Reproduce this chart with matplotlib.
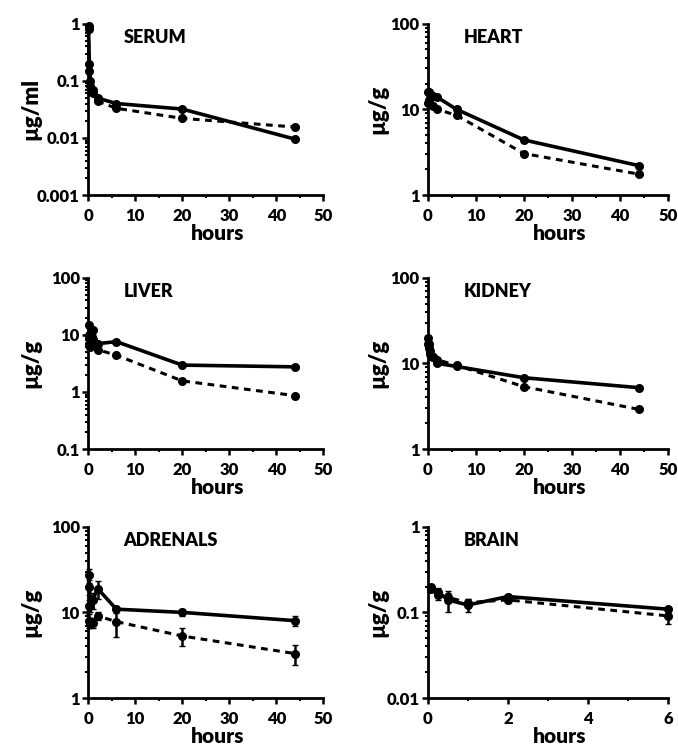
import numpy as np
import matplotlib
matplotlib.use('Agg')
from matplotlib import pyplot as plt
from matplotlib.ticker import LogLocator, FixedLocator, NullFormatter

plt.rcParams['font.family'] = ['Lato', 'DejaVu Sans']
plt.rcParams['font.weight'] = 'heavy'

# time points (hours)
t_long = [0.083, 0.25, 0.5, 1, 2, 6, 20, 44]
t_brain = [0.083, 0.25, 0.5, 1, 2, 6]

# serum (ug/ml)
serum_solid = [0.9, 0.2, 0.1, 0.07, 0.05, 0.040, 0.032, 0.0095]
serum_dashed = [0.8, 0.15, 0.08, 0.06, 0.044, 0.033, 0.022, 0.0155]

# heart (ug/g)
heart_solid = [15.8, 16, 15, 14.5, 13.8, 10, 4.4, 2.2]
heart_dashed = [12, 13, 11.5, 11, 10, 8.5, 3.05, 1.75]

# liver (ug/g)
liver_solid = [15, 9, 7, 12, 7, 7.6, 2.95, 2.75]
liver_dashed = [10, 7, 6, 8, 5.5, 4.4, 1.56, 0.86]

# kidney (ug/g)
kidney_solid = [20, 17, 14, 12, 10, 9.2, 6.8, 5.2]
kidney_dashed = [17, 15, 13, 12, 11, 9.5, 5.35, 2.9]

# adrenals (ug/g)
adrenal_solid = [27, 20, 12, 14, 19, 10.9, 10, 8]
adrenal_solid_err = [5, 4, 2, 3, 4.5, 1, 1, 1]
adrenal_dashed = [12, 8, 7.5, 7.5, 9.1, 7.8, 5.3, 3.3]
adrenal_dashed_err = [2, 1.5, 1, 1, 1, 2.6, 1.2, 0.9]

# brain (ug/g)
brain_solid = [0.20, 0.175, 0.14, 0.122, 0.153, 0.109]
brain_solid_err = [0.01, 0.02, 0.04, 0.02, 0.01, 0.005]
brain_dashed = [0.19, 0.16, 0.15, 0.13, 0.14, 0.091]
brain_dashed_err = [0.01, 0.02, 0.02, 0.015, 0.01, 0.018]

panels = [
    ('SERUM', t_long, serum_solid, None, serum_dashed, None, (0.001, 1),
     [0.001, 0.01, 0.1, 1], ['0.001', '0.01', '0.1', '1'], 'µg/ml', 50),
    ('HEART', t_long, heart_solid, None, heart_dashed, None, (1, 100),
     [1, 10, 100], ['1', '10', '100'], 'µg/g', 50),
    ('LIVER', t_long, liver_solid, None, liver_dashed, None, (0.1, 100),
     [0.1, 1, 10, 100], ['0.1', '1', '10', '100'], 'µg/g', 50),
    ('KIDNEY', t_long, kidney_solid, None, kidney_dashed, None, (1, 100),
     [1, 10, 100], ['1', '10', '100'], 'µg/g', 50),
    ('ADRENALS', t_long, adrenal_solid, adrenal_solid_err, adrenal_dashed, adrenal_dashed_err, (1, 100),
     [1, 10, 100], ['1', '10', '100'], 'µg/g', 50),
    ('BRAIN', t_brain, brain_solid, brain_solid_err, brain_dashed, brain_dashed_err, (0.01, 1),
     [0.01, 0.1, 1], ['0.01', '0.1', '1'], 'µg/g', 6),
]

# axes boxes in figure fractions [left, bottom, width, height]
lefts = [0.130, 0.631]
bottoms = [0.7393, 0.3997, 0.0668]
widths = [0.347, 0.354]
height = 0.229
ylabel_x = [-0.245, -0.21]

fig = plt.figure(figsize=(6.78, 7.48), dpi=100)

for i, (name, t, ys, ys_err, yd, yd_err, ylim, yticks, ylabels, unit, xmax) in enumerate(panels):
    row, col = divmod(i, 2)
    ax = fig.add_axes([lefts[col], bottoms[row], widths[col], height])

    ax.errorbar(t, ys, yerr=ys_err, color='black', lw=2.6, marker='o', ms=5.5,
                capsize=2.5, elinewidth=1.8, clip_on=False, zorder=3)
    ax.errorbar(t, yd, yerr=yd_err, color='black', lw=2.2, ls=(0, (2.2, 1.8)), marker='o', ms=5.5,
                capsize=2.5, elinewidth=1.8, clip_on=False, zorder=3)

    ax.set_yscale('log')
    ax.set_ylim(*ylim)
    ax.set_xlim(0, xmax)
    ax.yaxis.set_major_locator(FixedLocator(yticks))
    ax.set_yticklabels(ylabels)
    ax.yaxis.set_minor_locator(LogLocator(base=10, subs=np.arange(2, 10)))
    ax.yaxis.set_minor_formatter(NullFormatter())

    if xmax == 50:
        ax.set_xticks([0, 10, 20, 30, 40, 50])
        ax.set_xticks([5, 15, 25, 35, 45], minor=True)
    else:
        ax.set_xticks([0, 2, 4, 6])
        ax.set_xticks([1, 3, 5], minor=True)

    for side in ('top', 'right'):
        ax.spines[side].set_visible(False)
    for side in ('left', 'bottom'):
        ax.spines[side].set_linewidth(2)

    ax.tick_params(which='major', direction='out', length=4, width=1.8, labelsize=12, pad=2)
    ax.tick_params(axis='x', which='major', pad=5)
    ax.tick_params(which='minor', direction='out', length=2, width=1.5)

    ax.set_xlabel('hours', fontsize=15, fontweight='heavy')
    ax.xaxis.set_label_coords(0.55, -0.17)
    ax.set_ylabel(unit, fontsize=16, fontweight='heavy', va='center')
    ax.yaxis.set_label_coords(ylabel_x[col], 0.5)
    ax.text(0.15, 0.92, name, transform=ax.transAxes, fontsize=13, fontweight='heavy',
            ha='left', va='center')

fig.savefig('out.png', dpi=100)
